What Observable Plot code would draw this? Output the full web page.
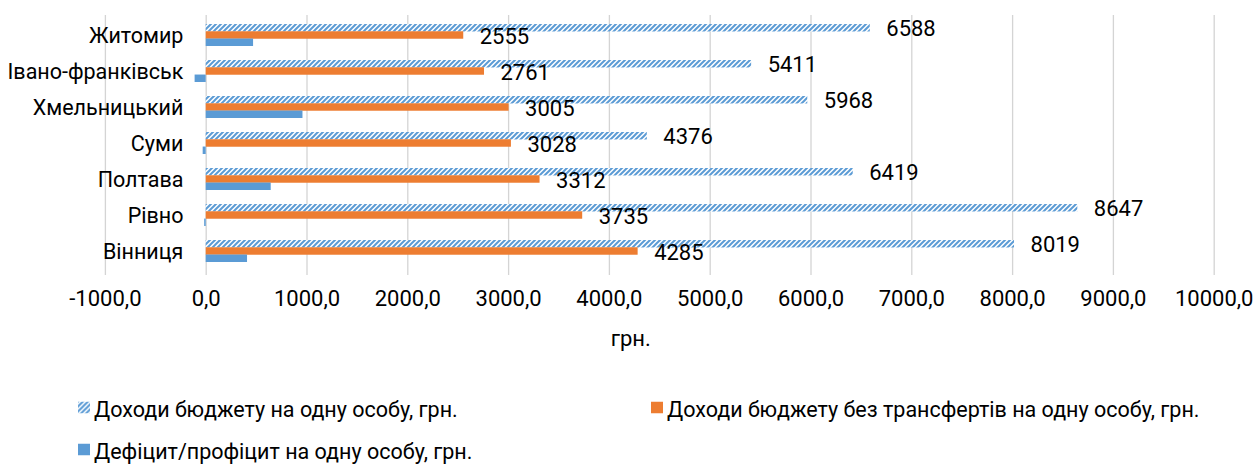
<!DOCTYPE html>
<html><head><meta charset="utf-8">
<script src="https://cdn.jsdelivr.net/npm/d3@7"></script>
<script src="https://cdn.jsdelivr.net/npm/@observablehq/plot@0.6"></script>
<style>
body{margin:0;background:#fff;font-family:Roboto,sans-serif;}
#wrap{position:relative;width:1255px;height:467px;overflow:hidden;}
.leg{position:absolute;font-size:21.5px;color:#000;display:flex;align-items:center;white-space:nowrap;transform:translateY(-50%);}
.sw{width:12px;height:12px;margin-right:4px;display:inline-block;flex:none;position:relative;top:-2px}
</style></head><body><div id="wrap"><div id="chart"></div><div id="legend"></div></div>
<script>
// ---- data ----
const regions = ["Житомир", "Івано-франківськ", "Хмельницький", "Суми", "Полтава", "Рівно", "Вінниця"];
const income = [6588, 5411, 5968, 4376, 6419, 8647, 8019];
const ownIncome = [2555, 2761, 3005, 3028, 3312, 3735, 4285];
const balance = [470, -110, 960, -30, 645, -15, 410];
const xTicks = [-1000, 0, 1000, 2000, 3000, 4000, 5000, 6000, 7000, 8000, 9000, 10000];
const seriesNames = ["Доходи бюджету на одну особу, грн.", "Доходи бюджету без трансфертів на одну особу, грн.", "Дефіцит/профіцит на одну особу, грн."];
const axisLabel = "грн.";

const BLUE = "#5B9BD5", ORANGE = "#ED7D31";
const rows = regions.map((r, i) => ({region: r, income: income[i], own: ownIncome[i], balance: balance[i]}));

const W = 1255, H = 370;
const yRange = [15.5, 270];
const step = (yRange[1] - yRange[0]) / regions.length;
const bw = step * 0.6;
const third = bw / 3;
const fmt = d => d.toFixed(1).replace(".", ",");

const chart = Plot.plot({
  width: W, height: H,
  marginLeft: 104.9, marginRight: 41.3, marginTop: 15, marginBottom: 95,
  style: {fontFamily: "Roboto, sans-serif", fontSize: "22px", color: "#000", background: "#fff"},
  x: {domain: [xTicks[0], xTicks[xTicks.length - 1]]},
  y: {domain: regions, range: yRange, paddingInner: 0.4, paddingOuter: 0.2, axis: null},
  marks: [
    Plot.ruleX(xTicks, {stroke: "#d4d4d4", strokeWidth: 1.3}),
    Plot.barX(rows, {y: "region", x: "income", fill: "url(#hatch)", insetBottom: 2 * third}),
    Plot.barX(rows, {y: "region", x: "own", fill: ORANGE, insetTop: third, insetBottom: third}),
    Plot.barX(rows, {y: "region", x: "balance", fill: BLUE, insetTop: 2 * third}),
    Plot.text(rows, {x: "income", y: "region", text: d => String(d.income), dx: 16, dy: -6.5, textAnchor: "start", fill: "#000", fontSize: 22}),
    Plot.text(rows, {x: "own", y: "region", text: d => String(d.own), dx: 16, dy: 1, textAnchor: "start", fill: "#000", fontSize: 22}),
    Plot.text(rows, {y: "region", text: d => d.region, frameAnchor: "left", dx: 78, dy: 1, textAnchor: "end", fill: "#000", fontSize: 21.5}),
    Plot.axisX(xTicks, {tickSize: 0, tickPadding: 15, tickFormat: fmt, fontSize: 22, label: null}),
    Plot.text([axisLabel], {frameAnchor: "bottom", dx: -29, dy: 70, fill: "#000", fontSize: 22})
  ]
});

// hatch pattern definition
const ns = "http://www.w3.org/2000/svg";
function addPattern(svg, id) {
  const defs = document.createElementNS(ns, "defs");
  defs.innerHTML = `<pattern id="${id}" patternUnits="userSpaceOnUse" width="5" height="5">
    <rect width="5" height="5" fill="#ffffff"/>
    <path d="M0,5 L5,0 M-1.25,1.25 L1.25,-1.25 M3.75,6.25 L6.25,3.75" stroke="${BLUE}" stroke-width="2"/>
  </pattern>`;
  svg.insertBefore(defs, svg.firstChild);
}
addPattern(chart, "hatch");
document.getElementById("chart").appendChild(chart);

// legend
const legendItems = [
  {name: seriesNames[0], fill: "url(#hatchL)", left: 78, top: 409},
  {name: seriesNames[1], fill: ORANGE, left: 651, top: 409},
  {name: seriesNames[2], fill: BLUE, left: 78, top: 451}
];
const leg = document.getElementById("legend");
legendItems.forEach((it, i) => {
  const d = document.createElement("div");
  d.className = "leg";
  d.style.left = it.left + "px";
  d.style.top = it.top + "px";
  const sw = document.createElementNS(ns, "svg");
  sw.setAttribute("class", "sw");
  sw.setAttribute("width", 12); sw.setAttribute("height", 12);
  if (i === 0) addPattern(sw, "hatchL");
  const r = document.createElementNS(ns, "rect");
  r.setAttribute("width", 12); r.setAttribute("height", 12); r.setAttribute("fill", it.fill);
  sw.appendChild(r);
  d.appendChild(sw);
  const t = document.createElement("span");
  t.textContent = it.name;
  d.appendChild(t);
  leg.appendChild(d);
});
</script></body></html>
